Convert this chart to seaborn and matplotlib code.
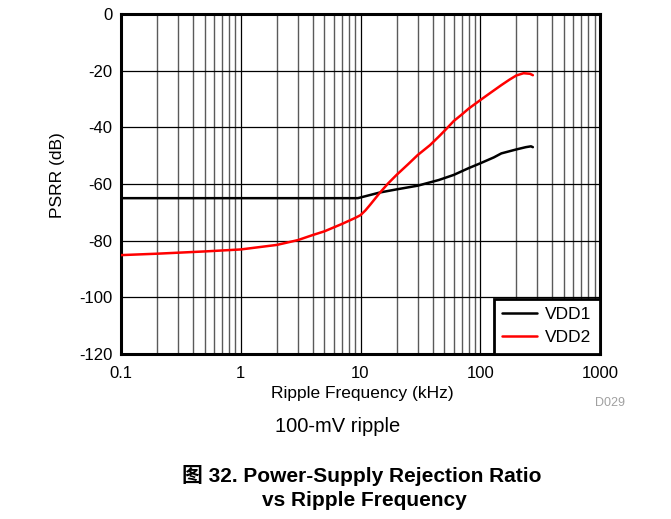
import pandas as pd
import numpy as np
import matplotlib
matplotlib.use('Agg')
import matplotlib.pyplot as plt
import seaborn as sns
from matplotlib.ticker import LogLocator, FixedLocator, NullFormatter

# PSRR vs ripple frequency
vdd1_freq = [0.1, 0.3, 1, 3, 9.5, 14.5, 20, 30, 45, 60, 80, 100, 130, 150, 200, 240, 265, 275]
vdd1_psrr = [-65, -65, -65, -65, -65, -63, -61.9, -60.6, -58.6, -56.8, -54.4, -52.7, -50.6, -49.2, -47.8, -47.0, -46.7, -47.0]

vdd2_freq = [0.1, 0.2, 0.5, 1, 2, 3, 4, 5, 7, 9, 10, 11, 12, 14.5, 17, 20, 25, 30, 38, 45, 52, 60, 70, 80, 100, 120, 150, 175, 200, 230, 260, 275]
vdd2_psrr = [-85.1, -84.6, -83.8, -83.1, -81.5, -79.8, -78.0, -76.7, -74.1, -72.0, -71.0, -69.3, -67.4, -63.1, -59.8, -56.8, -53.0, -49.8, -46.3, -43.3, -40.6, -37.8, -35.5, -33.4, -30.4, -28.0, -25.1, -23.2, -21.7, -20.9, -21.1, -21.6]

x_ticks = [0.1, 1, 10, 100, 1000]
x_ticklabels = ['0.1', '1', '10', '100', '1000']
y_ticks = [0, -20, -40, -60, -80, -100, -120]
y_ticklabels = ['0', '-20', '-40', '-60', '-80', '-100', '-120']


def build_frame():
    d1 = pd.DataFrame({'freq': vdd1_freq, 'psrr': vdd1_psrr, 'supply': 'VDD1'})
    d2 = pd.DataFrame({'freq': vdd2_freq, 'psrr': vdd2_psrr, 'supply': 'VDD2'})
    return pd.concat([d1, d2], ignore_index=True)


def main():
    sns.set_style('white')
    plt.rcParams['font.family'] = ['Liberation Sans', 'Noto Sans CJK SC', 'DejaVu Sans']
    plt.rcParams['text.color'] = 'black'
    plt.rcParams['axes.labelcolor'] = 'black'
    plt.rcParams['xtick.color'] = 'black'
    plt.rcParams['ytick.color'] = 'black'

    W, H = 671, 519
    fig = plt.figure(figsize=(W / 100, H / 100), dpi=100)
    ax = fig.add_axes([121 / W, 1 - 354 / H, 479 / W, 340 / H])

    df = build_frame()
    sns.lineplot(data=df, x='freq', y='psrr', hue='supply',
                 palette={'VDD1': 'black', 'VDD2': 'red'},
                 linewidth=1.8, ax=ax, zorder=3)

    ax.set_xscale('log')
    ax.set_xlim(0.1, 1000)
    ax.set_ylim(-120, 0)

    # grid: decades black, minor gray
    ax.xaxis.set_major_locator(FixedLocator(x_ticks))
    ax.set_xticklabels(x_ticklabels)
    ax.xaxis.set_minor_locator(LogLocator(base=10, subs=np.arange(2, 10)))
    ax.xaxis.set_minor_formatter(NullFormatter())
    ax.set_yticks(y_ticks)
    ax.set_yticklabels(y_ticklabels)
    ax.grid(which='major', axis='both', color='black', linewidth=0.9)
    ax.grid(which='minor', axis='x', color='#5a5a5a', linewidth=1.0)
    ax.set_axisbelow(True)

    ax.tick_params(axis='both', which='both', length=0, labelsize=12, colors='black')
    ax.tick_params(axis='x', pad=9)
    ax.tick_params(axis='y', pad=6)

    for s in ax.spines.values():
        s.set_visible(True)
        s.set_color('black')
        s.set_linewidth(2.2)

    ax.set_xlabel('Ripple Frequency (kHz)', fontsize=12.5)
    ax.set_ylabel('PSRR (dB)', fontsize=12.5)
    ax.xaxis.set_label_coords(0.503, -0.094)
    ax.yaxis.set_label_coords(-0.117, 0.526)

    sns.move_legend(ax, 'lower right', title=None, frameon=True, fancybox=False,
                    fontsize=12.5, handlelength=2.0, handletextpad=0.45,
                    borderaxespad=0, borderpad=0.5, labelspacing=0.45,
                    edgecolor='black', framealpha=1)
    leg = ax.get_legend()
    leg.get_frame().set_linewidth(2.0)
    for line in leg.get_lines():
        line.set_linewidth(1.8)

    fig.text(610 / W, 1 - 403 / H, 'D029', color='#a0a0a0', fontsize=9,
             ha='center', va='center')
    fig.text(338 / W, 1 - 427 / H, '100-mV ripple', fontsize=14.5,
             ha='center', va='center')
    fig.text(362 / W, 1 - 475 / H, '图 32. Power-Supply Rejection Ratio',
             fontsize=15, fontweight='bold', ha='center', va='center')
    fig.text(364 / W, 1 - 500 / H, 'vs Ripple Frequency',
             fontsize=15, fontweight='bold', ha='center', va='center')

    fig.savefig('out.png', dpi=100)
    plt.close(fig)


if __name__ == '__main__':
    main()
